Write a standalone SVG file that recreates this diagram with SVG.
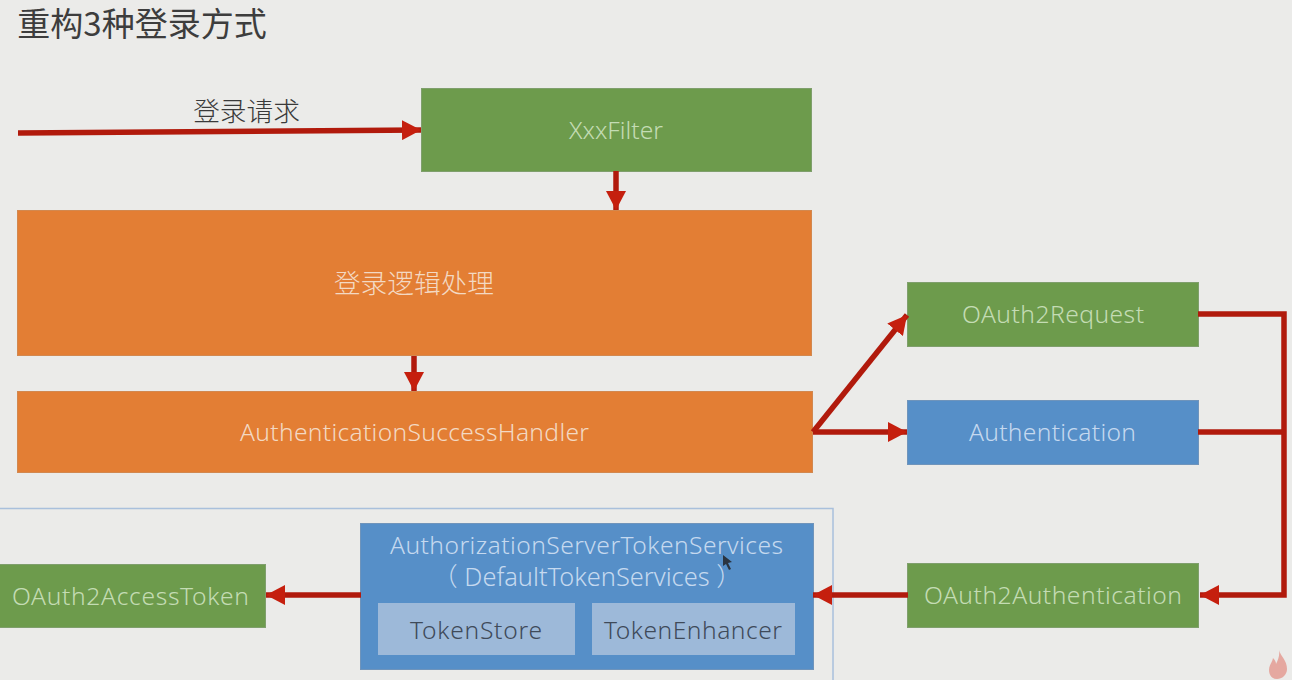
<svg xmlns="http://www.w3.org/2000/svg" width="1292" height="680" viewBox="0 0 1292 680">
<style>
.n{stroke-width:1}
.g{fill:#6d9b4c;stroke:#7f9f6c}
.o{fill:#e37e34;stroke:#d2884f}
.b{fill:#568fc8;stroke:#6f94bb}
.s{fill:#9db9d9}
text{font-family:"Noto Sans","Liberation Sans","Noto Sans CJK SC",sans-serif;font-size:24.6px;font-weight:300;text-anchor:middle;fill:#c4dcb4}
.l{fill:#c5d9ef}
.w{fill:#f3d9c3}
.d{fill:#3f4a59}
.c{font-family:"Noto Sans CJK SC","Noto Sans",sans-serif}
.h{font-weight:400;fill:#3d3d3d}
.k{fill:none;stroke:#b11a0c;stroke-width:5.500;stroke-linejoin:miter}
</style>
<defs>
<marker id="a" markerUnits="userSpaceOnUse" markerWidth="20" markerHeight="20" refX="19" refY="10" orient="auto"><path d="M0,0L19,10L0,20z" fill="#c51f0e"/></marker>
</defs>
<rect width="1292" height="680" fill="#ebebe9"/>
<text id="title" class="c h" x="142" y="36" style="font-size:33px">重构3种登录方式</text>
<text id="req" class="c" x="246.500" y="121" style="font-size:26.700px;fill:#3a3a3a">登录请求</text>
<g id="frame"><rect x="-3" y="508.500" width="836" height="182" fill="none" stroke="#a9c0dc" stroke-width="1.500"/></g>
<g id="xxx"><rect class="n g" x="421.500" y="88.500" width="390" height="83"/><text x="616" y="139" textLength="94">XxxFilter</text></g>
<g id="login"><rect class="n o" x="17.500" y="210.500" width="794" height="145"/><text class="c w" x="414" y="293" style="font-size:26.700px">登录逻辑处理</text></g>
<g id="handler"><rect class="n o" x="17.500" y="391.500" width="795" height="81"/><text class="w" x="414.500" y="441" textLength="349">AuthenticationSuccessHandler</text></g>
<g id="req2"><rect class="n g" x="907.500" y="282.500" width="291" height="64"/><text x="1053" y="323" textLength="182">OAuth2Request</text></g>
<g id="auth"><rect class="n b" x="907.500" y="400.500" width="291" height="64"/><text class="l" x="1052.500" y="441" textLength="167">Authentication</text></g>
<g id="oauth"><rect class="n g" x="907.500" y="563.500" width="291" height="64"/><text x="1053" y="604" textLength="258">OAuth2Authentication</text></g>
<g id="services"><rect class="n b" x="360.500" y="523.500" width="453" height="146"/>
<text class="l" x="587" y="586" style="font-size:25.400px">（ DefaultTokenServices ）</text>
<text class="l" x="586.500" y="554" textLength="393">AuthorizationServerTokenServices</text></g>
<g id="store"><rect class="s" x="378" y="603" width="197" height="52"/><text class="d" x="476" y="639" textLength="132">TokenStore</text></g>
<g id="enhancer"><rect class="s" x="592" y="603" width="203" height="52"/><text class="d" x="693" y="639" textLength="178">TokenEnhancer</text></g>
<g id="token"><rect class="n g" x="-3" y="564.500" width="268.500" height="63"/><text x="130.500" y="605" textLength="237">OAuth2AccessToken</text></g>
<g id="connectors" class="k">
<path d="M18,133L421,130" marker-end="url(#a)"/>
<path d="M616,171V210" marker-end="url(#a)"/>
<path d="M414,356V391" marker-end="url(#a)"/>
<path d="M813,432L907,315" marker-end="url(#a)"/>
<path d="M813,432H907" marker-end="url(#a)"/>
<path d="M1198,314H1284V595H1200" marker-end="url(#a)"/>
<path d="M1198,432H1284"/>
<path d="M908,595H813" marker-end="url(#a)"/>
<path d="M361,595H266" marker-end="url(#a)"/>
</g>
<path id="cursor" d="M723,555L723,566L726,564L729,570L731,569L728,563L732,562Z" fill="#2b3440"/>
<path id="flame" d="M1279,650C1281,657 1287,660 1287,669C1287,675 1282,679 1277,679C1271,679 1269,674 1269,670C1269,665 1272,663 1273,658C1275,660 1276,662 1276,664C1278,660 1280,655 1279,650Z" fill="#e5a8a0"/>
</svg>
